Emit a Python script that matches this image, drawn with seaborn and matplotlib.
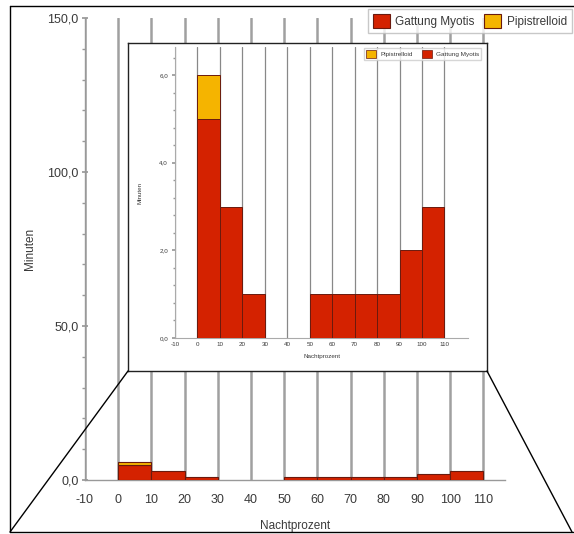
import matplotlib
matplotlib.use("Agg")
import matplotlib.pyplot as plt
import seaborn as sns
import pandas as pd
from matplotlib.patches import Patch
from matplotlib.lines import Line2D
from matplotlib.ticker import MultipleLocator

# ---- data ----
bin_starts = [0, 10, 20, 30, 40, 50, 60, 70, 80, 90, 100]
myotis = [5.0, 3.0, 1.0, 0.0, 0.0, 1.0, 1.0, 1.0, 1.0, 2.0, 3.0]
pipistrelloid = [1.0, 0, 0, 0, 0, 0, 0, 0, 0, 0, 0]
species = ["Gattung Myotis", "Pipistrelloid"]
x_ticks = [-10, 0, 10, 20, 30, 40, 50, 60, 70, 80, 90, 100, 110]
x_tick_labels = ["-10", "0", "10", "20", "30", "40", "50", "60", "70", "80", "90", "100", "110"]
main_y_ticks = [0, 50, 100, 150]
main_y_tick_labels = ["0,0", "50,0", "100,0", "150,0"]
inset_y_ticks = [0, 2, 4, 6]
inset_y_tick_labels = ["0,0", "2,0", "4,0", "6,0"]

colors = {"Gattung Myotis": "#d42200", "Pipistrelloid": "#f5b400"}
edge = "#6a1a0e"
txt = "#3a3a3a"

rows = []
for s, vals in zip(species, [myotis, pipistrelloid]):
    for b, v in zip(bin_starts, vals):
        rows.append({"mid": b + 5, "minutes": v, "species": s})
df = pd.DataFrame(rows)
bin_edges = bin_starts + [bin_starts[-1] + 10]

sns.set_theme(style="white")
plt.rcParams["font.family"] = ["Liberation Sans", "DejaVu Sans"]

W, H = 574, 534
fig = plt.figure(figsize=(W / 100, H / 100), dpi=100)


def fx(x):
    return x / W


def fy(y):
    return 1 - y / H


def draw_hist(ax, lw):
    sns.histplot(data=df, x="mid", weights="minutes", hue="species",
                 hue_order=["Pipistrelloid", "Gattung Myotis"], bins=bin_edges,
                 multiple="stack", palette=colors, edgecolor=edge, linewidth=lw,
                 alpha=1, legend=False, ax=ax, zorder=3)
    for p in list(ax.patches):
        if p.get_height() == 0:
            p.remove()


# ---- main axes ----
ax = fig.add_axes([fx(85), fy(480), fx(505 - 85), (480 - 18) / H])
draw_hist(ax, 0.8)
ax.set_xlim(-10, 116.5)
ax.set_ylim(0, 150)
ax.set_xticks(x_ticks)
ax.set_xticklabels(x_tick_labels, fontsize=9, color=txt)
ax.set_yticks(main_y_ticks)
ax.set_yticklabels(main_y_tick_labels, fontsize=9, color=txt)
ax.yaxis.set_minor_locator(MultipleLocator(10))
ax.tick_params(axis="x", length=0, pad=10)
ax.tick_params(axis="y", which="major", length=5, direction="inout", color="#999999", left=True, pad=2)
ax.tick_params(axis="y", which="minor", length=2.5, color="#999999", left=True)
ax.grid(axis="x", color="#a0a0a0", linewidth=1.8)
ax.set_axisbelow(True)
for s in ["top", "right"]:
    ax.spines[s].set_visible(False)
for s in ["left", "bottom"]:
    ax.spines[s].set_color("#999999")
    ax.spines[s].set_linewidth(1.0)
ax.set_xlabel("Nachtprozent", fontsize=8.5, color=txt)
ax.xaxis.set_label_coords(0.5, -(520 - 480) / 462)
ax.set_ylabel("Minuten", fontsize=8.5, color=txt)
ax.yaxis.set_label_coords(-(85 - 36) / 420, 0.5)

# main legend
main_handles = [Patch(facecolor=colors[s], edgecolor=edge, linewidth=0.8) for s in species]
fig.legend(main_handles, species, loc="upper right", bbox_to_anchor=(1.006, fy(3)),
           ncol=2, fontsize=8.5, handlelength=1.4, handleheight=1.5,
           columnspacing=0.8, handletextpad=0.5, frameon=True, fancybox=False,
           edgecolor="#bbbbbb", borderpad=0.4, labelcolor=txt)

# ---- inset frame ----
frame = fig.add_axes([fx(128), fy(371), fx(487 - 128), (371 - 43) / H], zorder=5)
frame.set_facecolor("white")
frame.set_xticks([])
frame.set_yticks([])
for s in frame.spines.values():
    s.set_color("#222222")
    s.set_linewidth(1.0)

# ---- inset axes ----
ins = fig.add_axes([fx(175), fy(338), fx(468 - 175), (338 - 47) / H], zorder=6)
ins.set_facecolor("none")
draw_hist(ins, 0.7)
ins.set_xlim(-10, 120.5)
ins.set_ylim(0, 6.64)
ins.set_xticks(x_ticks)
ins.set_xticklabels(x_tick_labels, fontsize=4.5, color=txt)
ins.set_yticks(inset_y_ticks)
ins.set_yticklabels(inset_y_tick_labels, fontsize=4.5, color=txt)
ins.yaxis.set_minor_locator(MultipleLocator(0.4))
ins.tick_params(axis="x", length=0, pad=3)
ins.tick_params(axis="y", which="major", length=2, color="#999999", left=True, pad=3)
ins.tick_params(axis="y", which="minor", length=1.2, color="#999999", left=True)
ins.grid(axis="x", color="#888888", linewidth=0.9)
ins.set_axisbelow(True)
for s in ["top", "right"]:
    ins.spines[s].set_visible(False)
for s in ["left", "bottom"]:
    ins.spines[s].set_color("#aaaaaa")
    ins.spines[s].set_linewidth(0.8)
ins.set_xlabel("Nachtprozent", fontsize=4.5, color=txt, labelpad=5)
ins.set_ylabel("Minuten", fontsize=4.5, color=txt, labelpad=12)

inset_order = ["Pipistrelloid", "Gattung Myotis"]
ins_handles = [Patch(facecolor=colors[s], edgecolor=edge, linewidth=0.5) for s in inset_order]
leg = ins.legend(ins_handles, inset_order, loc="upper right",
                 bbox_to_anchor=(fx(484), fy(45)), bbox_transform=fig.transFigure,
                 ncol=2, fontsize=4.6, handlelength=1.6, handleheight=1.6,
                 columnspacing=1.4, handletextpad=0.6, frameon=True, fancybox=False,
                 edgecolor="#cccccc", borderpad=0.3, labelcolor=txt)
leg.set_zorder(10)

# ---- connector lines and outer border ----
lines = [
    ([fx(128), fx(10)], [fy(371), fy(532)]),
    ([fx(487), fx(572)], [fy(371), fy(532)]),
    ([fx(10), fx(10)], [fy(6), fy(532)]),
    ([fx(10), fx(574)], [fy(6), fy(6)]),
    ([fx(10), fx(574)], [fy(532), fy(532)]),
]
for xs, ys in lines:
    fig.add_artist(Line2D(xs, ys, transform=fig.transFigure, color="black",
                          linewidth=1.0, zorder=20))

fig.savefig("out.png", dpi=100)
